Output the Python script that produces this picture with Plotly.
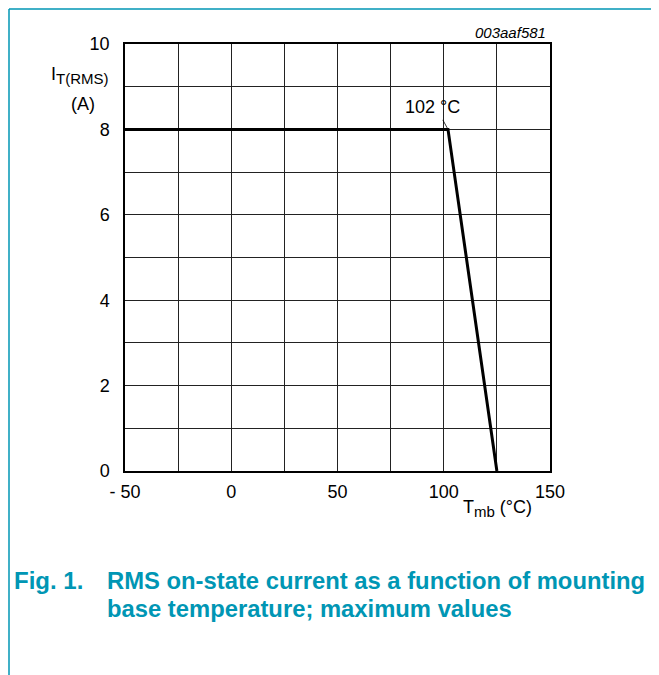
import plotly.graph_objects as go

# data
temps = [-50, 102, 125]
currents = [8, 8, 0]
x_tickvals = [-50, 0, 50, 100, 150]
x_ticktext = ["- 50", "0", "50", "100", "150"]
x_minor = [-25, 25, 75, 125]
y_tickvals = [0, 2, 4, 6, 8, 10]
y_ticktext = ["0", "2", "4", "6", "8", "10"]
y_minor = [1, 3, 5, 7, 9]
knee_label = "102 °C"

TEAL = "#0096B4"
FONT = "Liberation Sans, Arial, sans-serif"

# page has an 8px body margin; work in page pixel coords and subtract it
OFF = 8
W, H = 659 - OFF, 675 - OFF
PL, PR, PT, PB = 125, 550, 44, 471  # plot box in page pixels
L, R, T, B = PL - OFF, W - (PR - OFF), PT - OFF, H - (PB - OFF)
pw, ph = W - L - R, H - T - B


def px(x):
    return (x - OFF - L) / pw


def py(y):
    return 1 - (y - OFF - T) / ph


fig = go.Figure()
fig.add_trace(go.Scatter(x=temps, y=currents, mode="lines",
                         line=dict(color="black", width=3), showlegend=False,
                         hoverinfo="skip"))

grid = dict(showgrid=True, gridcolor="#222", gridwidth=1)
fig.update_layout(
    width=W, height=H,
    margin=dict(l=L, r=R, t=T, b=B),
    paper_bgcolor="white", plot_bgcolor="white",
    font=dict(family=FONT, size=18, color="black"),
    xaxis=dict(range=[-50, 150], tickvals=x_tickvals, ticktext=x_ticktext,
               minor=dict(tickvals=x_minor, **grid), **grid,
               showline=True, linecolor="black", linewidth=1.5, mirror=True,
               ticks="", zeroline=False, fixedrange=True,
               tickfont=dict(size=18), ticklabelstandoff=4),
    yaxis=dict(range=[0, 10], tickvals=y_tickvals, ticktext=y_ticktext,
               minor=dict(tickvals=y_minor, **grid), **grid,
               showline=True, linecolor="black", linewidth=1.5, mirror=True,
               ticks="", zeroline=False, fixedrange=True,
               tickfont=dict(size=18), ticklabelstandoff=10),
)


def pa(x, y, text, xanchor="left", size=18, color="black"):
    return dict(x=px(x), y=py(y), xref="paper", yref="paper", text=text,
                showarrow=False, xanchor=xanchor, yanchor="middle",
                font=dict(size=size, color=color, family=FONT))


annotations = [
    # leader line from label to the knee point
    dict(x=temps[1], y=currents[1], xref="x", yref="y", text="", showarrow=True,
         arrowhead=0, arrowwidth=0.8, arrowcolor="black", ax=-6, ay=-11, standoff=1),
    dict(x=temps[1], y=currents[1], xref="x", yref="y", text=knee_label, showarrow=False,
         xshift=-16, yshift=22, font=dict(size=18)),
    pa(548, 33, "<i>003aaf581</i>", xanchor="right", size=15),
    pa(111, 76, "I<sub><span style='font-size:15px'>T(RMS)</span></sub>", xanchor="right", size=18),
    pa(97, 104, "(A)", xanchor="right", size=18),
    pa(461, 508, "T<sub><span style='font-size:15px'>mb</span></sub> (°C)", xanchor="left", size=18),
    pa(12, 580, "<b>Fig. 1.</b>", size=24, color=TEAL),
    pa(105, 580, "<b>RMS on-state current as a function of mounting</b>", size=23.8, color=TEAL),
    pa(105, 608, "<b>base temperature; maximum values</b>", size=23.8, color=TEAL),
]
fig.update_layout(annotations=annotations)

shapes = [
    dict(type="line", xref="paper", yref="paper",
         x0=px(9), x1=px(659), y0=py(9), y1=py(9),
         line=dict(color=TEAL, width=1.5)),
    dict(type="line", xref="paper", yref="paper",
         x0=px(9), x1=px(9), y0=py(9), y1=py(675),
         line=dict(color=TEAL, width=1.5)),
]
fig.update_layout(shapes=shapes)

fig.write_html("out.html")
